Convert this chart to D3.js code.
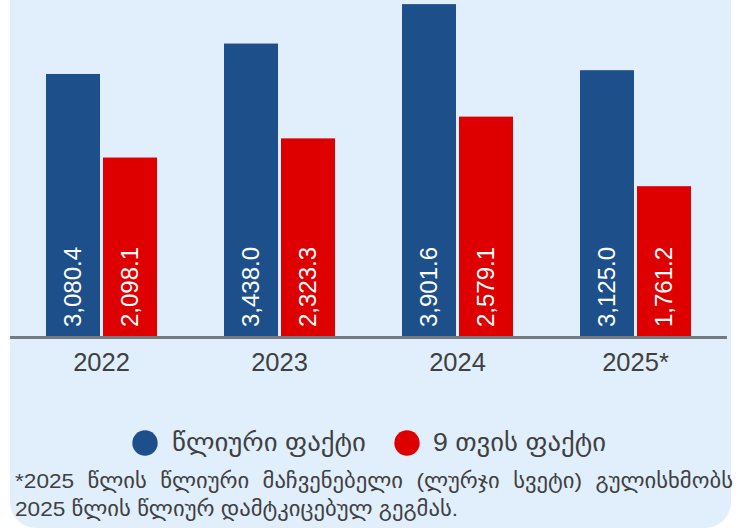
<!DOCTYPE html>
<html>
<head>
<meta charset="utf-8">
<script src="https://cdn.jsdelivr.net/npm/d3@7"></script>
<style>
  html, body { margin: 0; padding: 0; background: #ffffff; }
  svg { display: block; font-family: Arial, "Liberation Sans", "DejaVu Sans", sans-serif; }
</style>
</head>
<body>
<svg id="chart" width="752" height="531"></svg>
<script>
const categories = ["2022", "2023", "2024", "2025*"];
const seriesNames = ["წლიური ფაქტი", "9 თვის ფაქტი"];
const annualFact = [3080.4, 3438.0, 3901.6, 3125.0];
const nineMonthFact = [2098.1, 2323.3, 2579.1, 1761.2];
const seriesColors = ["#1d4f8a", "#de0000"];
const footnoteLine1 = "*2025 წლის წლიური მაჩვენებელი (ლურჯი სვეტი) გულისხმობს";
const footnoteLine2 = "2025 წლის წლიურ დამტკიცებულ გეგმას.";

const svg = d3.select("#chart");

// panel background
svg.append("rect")
  .attr("x", 10).attr("y", -40)
  .attr("width", 721).attr("height", 568)
  .attr("rx", 26).attr("ry", 26)
  .attr("fill", "#e1effd");

const baseY = 336;
const y = d3.scaleLinear().domain([0, 3950]).range([baseY, 0]);
const x0 = d3.scaleBand().domain(categories).range([12.5, 724.5])
  .paddingInner(0.3764).paddingOuter(0.1882);
const x1 = d3.scaleBand().domain([0, 1]).range([0, x0.bandwidth()])
  .paddingInner(0.0526).paddingOuter(0);

const data = categories.map((c, i) => ({cat: c, vals: [annualFact[i], nineMonthFact[i]]}));

const groups = svg.selectAll("g.grp").data(data).join("g")
  .attr("class", "grp")
  .attr("transform", d => `translate(${x0(d.cat)},0)`);

groups.selectAll("rect").data(d => d.vals.map((v, k) => ({v, k}))).join("rect")
  .attr("x", d => x1(d.k))
  .attr("y", d => y(d.v))
  .attr("width", x1.bandwidth())
  .attr("height", d => baseY - y(d.v))
  .attr("fill", d => seriesColors[d.k]);

const fmt = d3.format(",.1f");
groups.selectAll("text.val").data(d => d.vals.map((v, k) => ({v, k}))).join("text")
  .attr("class", "val")
  .attr("transform", d => `translate(${x1(d.k) + x1.bandwidth() / 2 - 1},${baseY - 9}) rotate(-90)`)
  .attr("dy", "0.36em")
  .attr("fill", "#ffffff")
  .attr("font-size", 24)
  .text(d => fmt(d.v));

// axis
const xAxis = d3.axisBottom(x0).tickSize(0).tickPadding(0);
const axG = svg.append("g").attr("transform", `translate(0,${baseY})`).call(xAxis);
axG.select(".domain").remove();
axG.selectAll("text")
  .attr("y", 35).attr("dy", 0)
  .attr("font-size", 25.5)
  .attr("font-family", "Arial, 'Liberation Sans', sans-serif")
  .attr("fill", "#404040");
svg.append("line")
  .attr("x1", 10).attr("x2", 727)
  .attr("y1", baseY + 1.5).attr("y2", baseY + 1.5)
  .attr("stroke", "#757a80").attr("stroke-width", 3);

// legend
const legendPos = [{cx: 145, tx: 172, w: 194}, {cx: 407, tx: 433, w: 173}];
const leg = svg.append("g");
seriesNames.forEach((name, i) => {
  leg.append("circle").attr("cx", legendPos[i].cx).attr("cy", 443).attr("r", 12.7)
    .attr("fill", seriesColors[i]);
  leg.append("text").attr("x", legendPos[i].tx).attr("y", 451)
    .attr("font-size", 25).attr("fill", "#404040")
    .attr("textLength", legendPos[i].w).attr("lengthAdjust", "spacingAndGlyphs")
    .text(name);
});

// footnote
const fnColor = "#404040";
const fnSize = 21;
const left = 15, right = 733;
const measure = s => {
  const t = svg.append("text").attr("font-size", fnSize).text(s);
  const wd = t.node().getComputedTextLength();
  t.remove();
  return wd;
};
const line2Target = 443;
const f = line2Target / measure(footnoteLine2);
const words = footnoteLine1.split(" ");
const widths = words.map(w => measure(w) * f);
const gap = (right - left - d3.sum(widths)) / (words.length - 1);
let cx = left;
words.forEach((w, i) => {
  svg.append("text").attr("x", cx).attr("y", 488)
    .attr("font-size", fnSize).attr("fill", fnColor)
    .attr("textLength", widths[i]).attr("lengthAdjust", "spacingAndGlyphs")
    .text(w);
  cx += widths[i] + gap;
});
svg.append("text").attr("x", left).attr("y", 516)
  .attr("font-size", fnSize).attr("fill", fnColor)
  .attr("textLength", line2Target).attr("lengthAdjust", "spacingAndGlyphs")
  .text(footnoteLine2);
</script>
</body>
</html>
